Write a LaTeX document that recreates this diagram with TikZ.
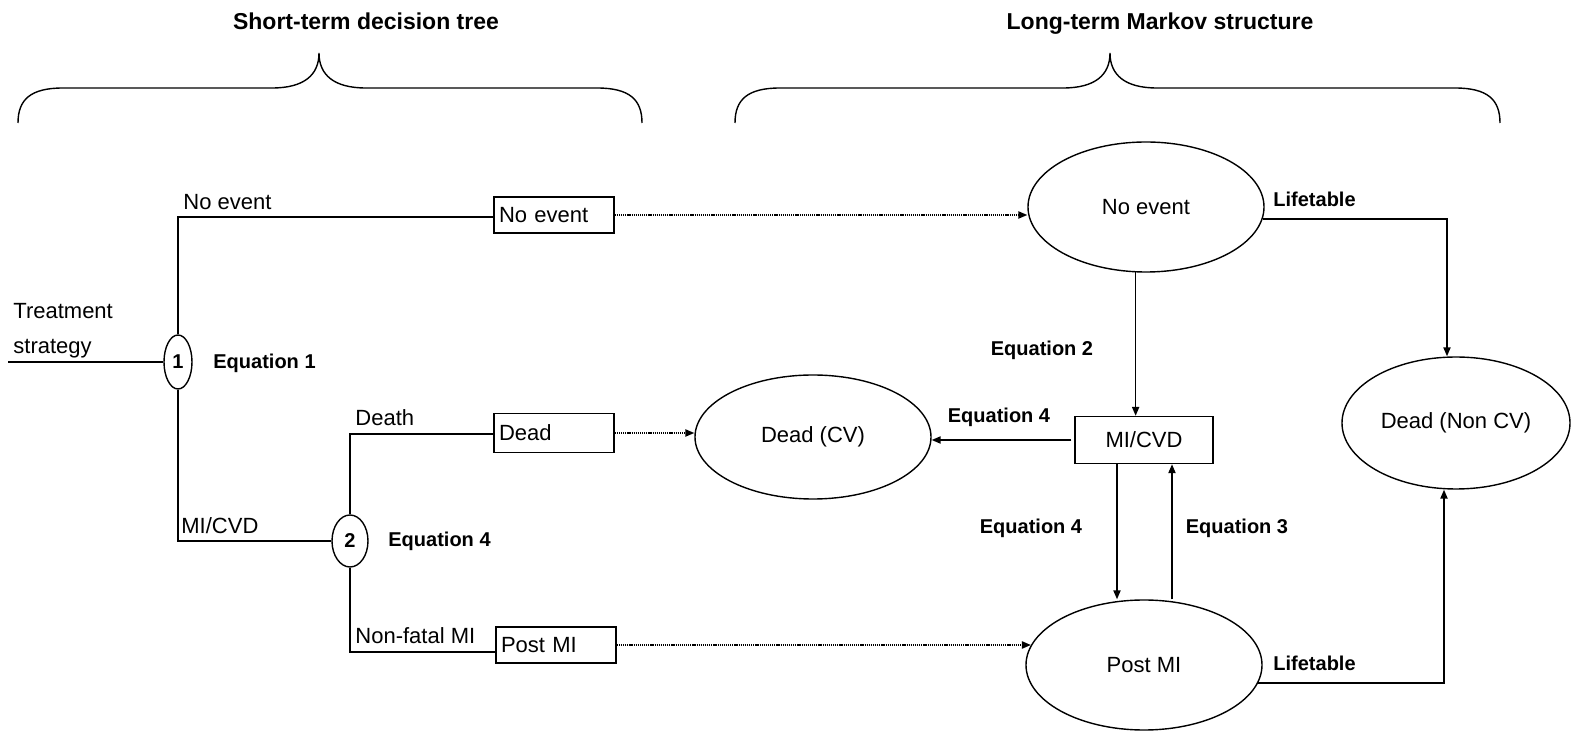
\documentclass[tikz,border=0pt]{standalone}
\usepackage{fontspec}
\setmainfont{Liberation Sans}
\usetikzlibrary{shapes.geometric,arrows.meta}

\tikzset{
  txt/.style={inner sep=0pt,font=\fontsize{11}{13}\selectfont},
  eqn/.style={inner sep=0pt,font=\fontsize{10}{12}\selectfont\bfseries},
  chance/.style={draw,ellipse,line width=0.7pt,inner sep=0pt,font=\fontsize{10}{12}\selectfont\bfseries},
  outcome/.style={draw,line width=0.7pt,text width=55pt,inner xsep=2.5pt,inner ysep=0pt,minimum height=18pt,align=left,font=\fontsize{11}{13}\selectfont},
  state/.style={draw,ellipse,line width=0.7pt,inner sep=0pt,minimum width=118pt,minimum height=65pt,font=\fontsize{11}{13}\selectfont},
  branch/.style={line width=1.4pt},
  flow/.style={-{Triangle[length=4.5pt,width=3.6pt]},line width=0.75pt},
  carry/.style={-{Triangle[length=4.5pt,width=3.6pt]},dash pattern=on 0.6pt off 0.45pt,line width=0.8pt},
  brace/.style={line width=0.7pt}
}

\begin{document}
\begin{tikzpicture}[x=0.5pt,y=-0.5pt]
\useasboundingbox (0,0) rectangle (1575,742);
\node[font=\fontsize{11.5}{14}\selectfont\bfseries,anchor=base] (titletree) at (366,30) {Short-term decision tree};
\node[font=\fontsize{11.5}{14}\selectfont\bfseries,anchor=base] (titlemarkov) at (1160,30) {Long-term Markov structure};
\draw[brace] (18,123) .. controls (18,100) and (30,88) .. (63,88) -- (272,88) .. controls (304,88) and (319,75) .. (319,53) .. controls (319,75) and (334,88) .. (366,88) -- (597,88) .. controls (630,88) and (642,100) .. (642,123);
\draw[brace] (735,123) .. controls (735,100) and (747,88) .. (780,88) -- (1063,88) .. controls (1095,88) and (1110,75) .. (1110,53) .. controls (1110,75) and (1125,88) .. (1157,88) -- (1455,88) .. controls (1488,88) and (1500,100) .. (1500,123);

\coordinate (root) at (8,362);
\node[chance,minimum width=14pt,minimum height=27pt] (ch1) at (178,362) {1};
\node[chance,minimum width=18pt,minimum height=26pt] (ch2) at (350,541) {2};
\node[outcome] (outnone) at (554,215) {No event};
\node[outcome,minimum height=19.5pt] (outdead) at (554,433) {Dead};
\node[outcome] (outpost) at (556,645) {Post MI};
\coordinate (ch1top) at (178,217);
\coordinate (ch1bot) at (178,541);
\coordinate (ch2top) at (350,434);
\coordinate (ch2bot) at (350,652);
\draw[branch] (root) -- (ch1.west);
\draw[branch] (ch1.north) -- (ch1top) -- (ch1top -| outnone.west);
\draw[branch] (ch1.south) -- (ch1bot) -- (ch2.west);
\draw[branch] (ch2.north) -- (ch2top) -- (ch2top -| outdead.west);
\draw[branch] (ch2.south) -- (ch2bot) -- (ch2bot -| outpost.west);
\node[txt,anchor=south west,align=left,font=\fontsize{11}{17.5}\selectfont] (strategy) at (13,358) {Treatment\\strategy};
\node[txt,anchor=base west] (lnone) at (183,210) {No event};
\node[txt,anchor=base west] (lmicvd) at (181,534) {MI/CVD};
\node[txt,anchor=base west] (ldeath) at (355,426) {Death};
\node[txt,anchor=base west] (lnonfatal) at (355,644) {Non-fatal MI};
\node[eqn,anchor=base west] (eqone) at (213,369) {Equation 1};
\node[eqn,anchor=base west] (eqfour) at (388,547) {Equation 4};

\node[state] (none) at (1146,207) {No event};
\node[state,minimum height=62pt] (deadcv) at (813,437) {Dead (CV)};
\node[state,minimum width=114pt,minimum height=66pt] (deadncv) at (1456,423) {Dead (Non CV)};
\node[state] (postmi) at (1144,665) {Post MI};
\node[draw,line width=0.7pt,minimum width=69pt,minimum height=23.5pt,inner sep=0pt,font=\fontsize{11}{13}\selectfont] (micvd) at (1144,440) {MI/CVD};
\coordinate (downx) at ([xshift=-13.5pt]micvd.south);
\coordinate (upx) at ([xshift=14pt]micvd.south);
\coordinate (lifex) at (1447,0);
\coordinate (lifey) at (1444,0);
\draw[carry] (outnone.east) -- (outnone.east -| none.west);
\draw[carry] (outdead.east) -- (outdead.east -| deadcv.west);
\draw[carry] (outpost.east) -- (outpost.east -| postmi.170);
\draw[flow] (none.-99) -- (none.-99 |- micvd.north);
\draw[flow,shorten <=1.5pt] (micvd.west) -- (micvd.west -| deadcv.east);
\draw[flow] (downx) -- (downx |- postmi.north);
\draw[flow] (upx |- postmi.north) -- (upx);
\draw[flow] (none.-6) -| (lifex |- deadncv.north);
\draw[flow] (postmi.-9) -| (lifey |- deadncv.south);
\node[eqn,anchor=base west] (lifeupper) at (1273,207) {Lifetable};
\node[eqn,anchor=base west] (lifelower) at (1273,671) {Lifetable};
\node[eqn] (eqtwo) at (1042,350) {Equation 2};
\node[eqn] (eqdead) at (999,417) {Equation 4};
\node[eqn] (eqdown) at (1031,528) {Equation 4};
\node[eqn] (eqthree) at (1237,528) {Equation 3};
\end{tikzpicture}
\end{document}
